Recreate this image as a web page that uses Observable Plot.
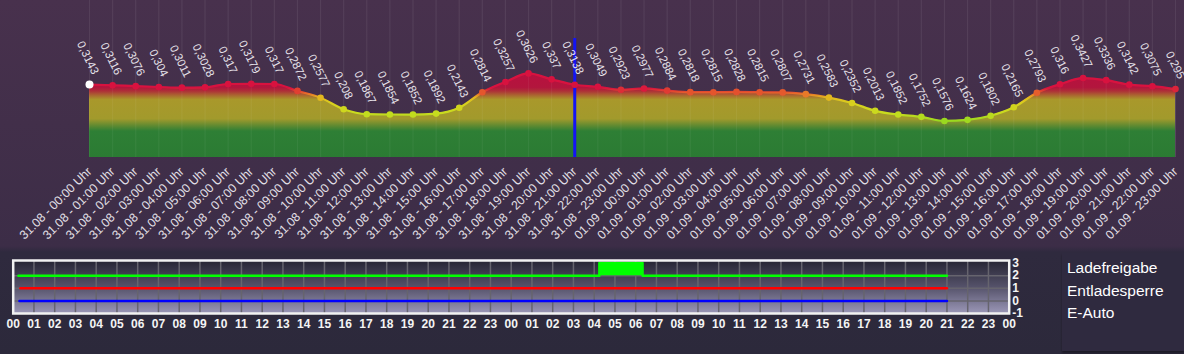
<!DOCTYPE html>
<html>
<head>
<meta charset="utf-8">
<script src="https://cdn.jsdelivr.net/npm/d3@7"></script>
<script src="https://cdn.jsdelivr.net/npm/@observablehq/plot@0.6"></script>
<style>
html,body{margin:0;padding:0;}
body{width:1184px;height:354px;overflow:hidden;position:relative;
  background:linear-gradient(to bottom,#48314d 0px,#3c2d47 246px,#2f2a3e 252px,#2c293b 354px);
  font-family:"Liberation Sans",Arial,sans-serif;}
#top{position:absolute;left:0;top:0;}
#bottom{position:absolute;left:0;top:250px;}
#legend{position:absolute;left:1062px;top:253px;width:122px;height:98px;background:#2f2a3f;
  box-shadow:0 2px 2px rgba(0,0,0,0.35);}
#legend div{position:absolute;left:5px;color:#ffffff;font-size:15.5px;line-height:18px;white-space:nowrap;}
</style>
</head>
<body>
<div id="top"></div>
<div id="bottom"></div>
<div id="legend"></div>
<script>
// ---------- data: top chart (prices per hour) ----------
const days = ["31.08", "01.09"];
const hourNames = ["00","01","02","03","04","05","06","07","08","09","10","11",
                   "12","13","14","15","16","17","18","19","20","21","22","23"];
const prices = [
  0.3143, 0.3116, 0.3076, 0.304, 0.3011, 0.3028, 0.317, 0.3179, 0.317, 0.2872, 0.2577, 0.208,
  0.1867, 0.1854, 0.1852, 0.1892, 0.2143, 0.2814, 0.3257, 0.3626, 0.337, 0.3138, 0.3049, 0.2923,
  0.2977, 0.2884, 0.2818, 0.2815, 0.2828, 0.2815, 0.2807, 0.2731, 0.2583, 0.2352, 0.2013, 0.1852,
  0.1752, 0.1576, 0.1624, 0.1802, 0.2165, 0.2793, 0.316, 0.3427, 0.3336, 0.3142, 0.3075, 0.295
];
const xLabels = days.flatMap(d => hourNames.map(h => `${d} - ${h}:00 Uhr`));
const currentIndex = 21;
const currentTop = 0.513;

// ---------- data: bottom chart (status lines) ----------
const bottomTickLabels = [...hourNames, ...hourNames, "00"];
const ladefreigabeT = [0.25, 28.25, 30.33, 45];
const ladefreigabeV = [2, 3, 2, 2];
const entladesperreT = [0.35, 45];
const entladesperreV = [1, 1];
const eAutoT = [0.3, 45];
const eAutoV = [0, 0];
const legendNames = ["Ladefreigabe", "Entladesperre", "E-Auto"];

// ---------- top chart ----------
const data = prices.map((v, i) => ({i, v}));
const valColor = d3.scaleLinear()
  .domain([0.15, 0.19, 0.235, 0.26, 0.275, 0.285, 0.30])
  .range(["#8fd81f", "#c8dc1e", "#d9cf1e", "#e3b61f", "#e8702a", "#e2472f", "#d8123f"])
  .clamp(true);

const topChart = Plot.plot({
  width: 1184, height: 250,
  marginLeft: 89, marginRight: 9, marginTop: 0, marginBottom: 93,
  style: {background: "transparent", overflow: "visible"},
  x: {domain: [0, 47], axis: null},
  y: {domain: [0, 0.677], axis: null},
  marks: [
    Plot.ruleX(data, {x: "i", y1: 0, y2: 0.677, stroke: "#ffffff", strokeOpacity: 0.07, strokeWidth: 1.2}),
    Plot.areaY(data, {x: "i", y: "v", curve: "monotone-x", fill: "url(#areaGrad)"}),
    Plot.ruleX(data, {x: "i", y1: 0, y2: d => d.v, stroke: "#ffffff", strokeOpacity: 0.05, strokeWidth: 1.2}),
    Plot.line(data, {x: "i", y: "v", curve: "monotone-x", stroke: "url(#lineGrad)", strokeWidth: 2.2}),
    Plot.ruleX([currentIndex], {y1: 0, y2: currentTop, stroke: "#1414f5", strokeWidth: 3}),
    Plot.dot(data, {x: "i", y: "v", r: 3.3, fill: d => d.i === 0 ? "#ffffff" : valColor(d.v), stroke: "none"}),
    Plot.dot([data[0]], {x: "i", y: "v", r: 4, fill: "#ffffff"}),
    Plot.text(data, {x: "i", y: "v", text: d => String(d.v).replace(".", ","),
      rotate: 64, textAnchor: "end", dx: 6, dy: -11, fill: "#e6e2ea", fontSize: 11.5,
      fontFamily: "Liberation Sans, Arial, sans-serif"}),
    Plot.axisX({ticks: d3.range(48), tickFormat: i => xLabels[i], tickRotate: -45, label: null,
      tickSize: 0, tickPadding: 12, fontSize: 12.3, fill: "#e4e0e8", fontFamily: "Liberation Sans, Arial, sans-serif"})
  ]
});
document.getElementById("top").appendChild(topChart);

{
  const ys = topChart.scale("y");
  const Y = v => ys.apply(v);
  const svg = d3.select(topChart);
  const defs = svg.insert("defs", ":first-child");
  const ag = defs.append("linearGradient").attr("id", "areaGrad")
    .attr("gradientUnits", "userSpaceOnUse").attr("x1", 0).attr("x2", 0)
    .attr("y1", Y(0.36)).attr("y2", Y(0));
  const aStops = [[0.36, "#b8103f"], [0.30, "#b2163d"], [0.285, "#ae2e38"], [0.265, "#aa6a30"],
                  [0.248, "#a9982b"], [0.165, "#a29a2c"], [0.135, "#5f8a31"], [0.112, "#2e7f35"], [0, "#2b7b33"]];
  aStops.forEach(([v, c]) => ag.append("stop")
    .attr("offset", (Y(v) - Y(0.36)) / (Y(0) - Y(0.36))).attr("stop-color", c));
  const lg = defs.append("linearGradient").attr("id", "lineGrad")
    .attr("gradientUnits", "userSpaceOnUse").attr("x1", 0).attr("x2", 0)
    .attr("y1", Y(0.37)).attr("y2", Y(0.14));
  [0.37, 0.30, 0.285, 0.275, 0.26, 0.235, 0.19, 0.15, 0.14].forEach(v => lg.append("stop")
    .attr("offset", (Y(v) - Y(0.37)) / (Y(0.14) - Y(0.37))).attr("stop-color", valColor(v)));
}

// ---------- bottom chart ----------
const toRows = (T, V) => T.map((t, k) => ({t, v: V[k]}));
const lade = toRows(ladefreigabeT, ladefreigabeV);
const entl = toRows(entladesperreT, entladesperreV);
const autoRows = toRows(eAutoT, eAutoV);

const bottomChart = Plot.plot({
  width: 1060, height: 104,
  marginLeft: 12.7, marginRight: 51.3, marginTop: 10, marginBottom: 41,
  style: {background: "transparent", overflow: "visible"},
  x: {domain: [0, 48], axis: null},
  y: {domain: [-1, 3.2], axis: null},
  marks: [
    Plot.frame({fill: "url(#boxGrad)"}),
    Plot.ruleX(d3.range(1, 48), {stroke: "#66646e", strokeWidth: 1.5}),
    Plot.ruleY([0, 1, 2], {stroke: "#66646e", strokeWidth: 1.5}),
    Plot.areaY(lade, {x: "t", y1: 2, y2: "v", curve: "step-after", fill: "#00ff00"}),
    Plot.line(lade, {x: "t", y: "v", curve: "step-after", stroke: "#00ff00", strokeWidth: 2.5}),
    Plot.line(entl, {x: "t", y: "v", stroke: "#ff0000", strokeWidth: 2.5}),
    Plot.line(autoRows, {x: "t", y: "v", stroke: "#0000ff", strokeWidth: 2.5}),
    Plot.frame({stroke: "#f2f2f2", strokeWidth: 2.5}),
    Plot.axisX({ticks: d3.range(49), tickFormat: i => bottomTickLabels[i], tickSize: 0, tickPadding: 6, label: null,
      fontSize: 12, fontWeight: "bold", fill: "#f4f4f4", fontFamily: "Liberation Sans, Arial, sans-serif"}),
    Plot.axisY({anchor: "right", ticks: [-1, 0, 1, 2, 3], tickFormat: d => String(d), tickSize: 0, tickPadding: 3, label: null,
      fontSize: 12, fontWeight: "bold", fill: "#f4f4f4", fontFamily: "Liberation Sans, Arial, sans-serif"})
  ]
});
document.getElementById("bottom").appendChild(bottomChart);
{
  const defs = d3.select(bottomChart).insert("defs", ":first-child");
  const g = defs.append("linearGradient").attr("id", "boxGrad")
    .attr("x1", 0).attr("x2", 0).attr("y1", 0).attr("y2", 1);
  g.append("stop").attr("offset", 0).attr("stop-color", "#272534");
  g.append("stop").attr("offset", 0.5).attr("stop-color", "#55526a");
  g.append("stop").attr("offset", 1).attr("stop-color", "#9c98b8");
}

// ---------- legend ----------
const legend = document.getElementById("legend");
legendNames.forEach((name, k) => {
  const d = document.createElement("div");
  d.textContent = name;
  d.style.top = (6 + k * 22.5) + "px";
  legend.appendChild(d);
});
</script>
</body>
</html>
